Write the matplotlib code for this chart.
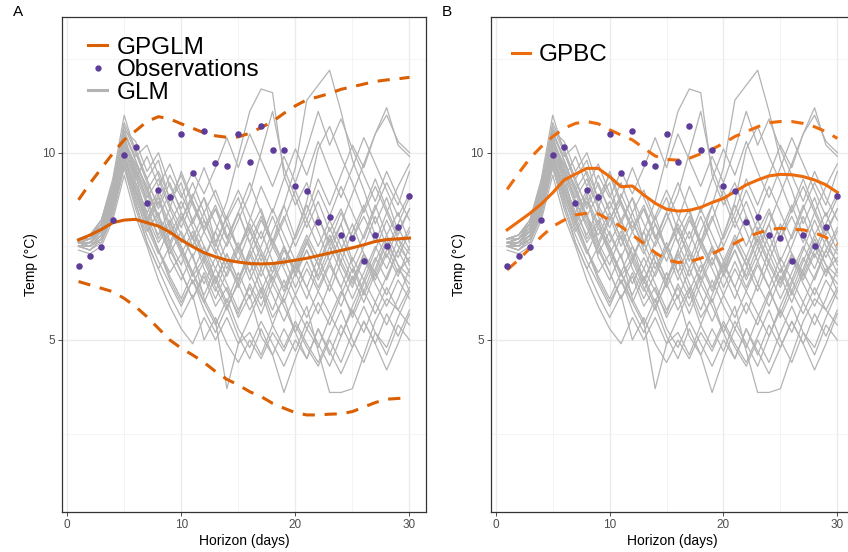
import matplotlib
matplotlib.use("Agg")
import matplotlib.pyplot as plt
from matplotlib.lines import Line2D
from matplotlib.ticker import MultipleLocator

plt.rcParams["font.family"] = ["Liberation Sans", "DejaVu Sans"]

horizon = list(range(1, 31))

observations = [6.97, 7.25, 7.47, 8.20, 9.93, 10.16, 8.65, 9.00, 8.82, 10.50,
                9.47, 10.57, 9.73, 9.65, 10.50, 9.75, 10.72, 10.07, 10.07, 9.11,
                8.97, 8.16, 8.27, 7.81, 7.73, 7.10, 7.79, 7.52, 8.02, 8.84]

# panel A: GPGLM mean and bounds
gpglm_mean = [7.67, 7.80, 7.95, 8.13, 8.20, 8.22, 8.13, 8.04, 7.88, 7.67,
              7.49, 7.33, 7.22, 7.13, 7.08, 7.04, 7.03, 7.04, 7.08, 7.13,
              7.18, 7.25, 7.32, 7.39, 7.46, 7.54, 7.63, 7.68, 7.70, 7.72]
gpglm_upper = [8.74, 9.18, 9.58, 9.98, 10.34, 10.58, 10.83, 10.96, 10.90, 10.77,
               10.65, 10.53, 10.45, 10.41, 10.42, 10.52, 10.67, 10.83, 11.05, 11.25,
               11.41, 11.49, 11.58, 11.69, 11.76, 11.83, 11.90, 11.94, 11.97, 12.01]
gpglm_lower = [6.56, 6.47, 6.38, 6.29, 6.11, 5.89, 5.62, 5.31, 5.00, 4.78,
               4.60, 4.40, 4.16, 3.95, 3.80, 3.62, 3.49, 3.31, 3.18, 3.06,
               3.00, 3.00, 3.02, 3.03, 3.09, 3.21, 3.33, 3.42, 3.44, 3.45]

# panel B: GPBC mean and bounds
gpbc_mean = [7.94, 8.16, 8.38, 8.63, 8.93, 9.27, 9.43, 9.58, 9.58, 9.36,
             9.09, 9.11, 8.87, 8.65, 8.49, 8.44, 8.46, 8.54, 8.67, 8.78,
             8.96, 9.14, 9.27, 9.38, 9.42, 9.41, 9.36, 9.27, 9.14, 8.94]
gpbc_upper = [9.02, 9.45, 9.85, 10.16, 10.43, 10.65, 10.78, 10.83, 10.77, 10.61,
              10.47, 10.34, 10.12, 9.91, 9.82, 9.80, 9.85, 9.97, 10.09, 10.25,
              10.43, 10.56, 10.69, 10.80, 10.83, 10.83, 10.78, 10.69, 10.56, 10.38]
gpbc_lower = [6.87, 7.14, 7.45, 7.76, 8.03, 8.20, 8.34, 8.38, 8.37, 8.20,
              8.03, 7.80, 7.58, 7.33, 7.14, 7.07, 7.09, 7.18, 7.30, 7.45,
              7.58, 7.74, 7.85, 7.95, 7.98, 7.95, 7.94, 7.86, 7.74, 7.54]

# GLM ensemble members (read approximately)
glm_members = [
    [7.6, 7.6, 7.9, 8.8, 10.3, 9.7, 9.1, 8.3, 7.8, 8.4, 7.7, 7.1, 7.9, 8.7, 9.9, 11.1, 11.7, 11.6, 9.4, 8.6, 9.2, 8.3, 7.5, 8.1, 7.1, 7.8, 8.6, 7.8, 8.4, 7.6],
    [7.5, 7.4, 7.7, 8.5, 9.8, 9.0, 8.2, 8.9, 7.6, 7.0, 7.8, 6.9, 6.3, 7.1, 6.5, 7.4, 8.2, 7.6, 8.6, 9.6, 11.4, 11.8, 12.2, 11.1, 9.8, 9.0, 8.1, 8.8, 7.9, 8.5],
    [7.7, 7.8, 8.2, 9.2, 10.8, 10.1, 9.3, 9.8, 8.7, 9.2, 8.1, 8.8, 7.6, 8.3, 7.4, 8.0, 7.1, 7.9, 8.6, 7.7, 8.4, 9.3, 8.6, 9.4, 10.2, 9.6, 10.5, 11.0, 10.3, 10.0],
    [7.6, 7.5, 7.8, 8.6, 10.0, 8.8, 7.9, 8.4, 7.2, 6.6, 7.3, 6.1, 5.5, 3.7, 4.9, 5.6, 6.3, 5.4, 6.2, 7.0, 6.4, 7.2, 6.5, 7.4, 8.1, 7.3, 6.8, 7.6, 7.0, 6.7],
    [7.5, 7.6, 7.6, 8.3, 9.6, 8.5, 7.6, 6.9, 7.5, 6.8, 6.1, 6.7, 5.9, 6.4, 5.6, 6.2, 5.1, 4.6, 3.6, 4.5, 5.3, 4.8, 5.6, 6.3, 5.7, 6.5, 7.2, 6.6, 7.4, 8.0],
    [7.7, 7.7, 8.0, 8.9, 10.4, 9.4, 8.6, 7.7, 8.2, 7.4, 6.8, 7.5, 6.6, 5.9, 6.5, 5.8, 6.4, 5.6, 6.1, 5.2, 5.9, 4.7, 3.6, 3.6, 3.7, 4.6, 5.5, 6.1, 5.8, 6.4],
    [7.6, 7.7, 8.1, 9.0, 10.6, 10.3, 9.5, 10.0, 9.1, 8.5, 9.2, 8.4, 9.0, 8.2, 8.8, 7.9, 8.5, 7.6, 8.3, 7.5, 8.2, 9.0, 8.3, 9.1, 8.4, 7.7, 8.5, 9.2, 8.6, 9.5],
    [7.5, 7.5, 7.8, 8.6, 10.1, 9.2, 8.4, 7.8, 8.5, 9.5, 8.7, 8.0, 8.6, 7.8, 7.1, 7.9, 7.3, 6.6, 7.4, 6.8, 7.6, 7.0, 6.3, 7.1, 7.9, 8.6, 7.8, 7.2, 8.0, 7.4],
    [7.6, 7.6, 7.9, 8.7, 9.9, 9.0, 8.2, 7.4, 6.8, 7.3, 6.5, 7.1, 6.4, 5.8, 6.6, 7.4, 6.7, 7.5, 6.9, 6.2, 6.9, 6.3, 7.0, 6.4, 7.2, 6.6, 7.4, 8.2, 7.5, 7.1],
    [7.7, 7.8, 8.1, 9.1, 10.5, 9.9, 10.2, 9.4, 8.6, 8.0, 8.7, 7.9, 7.3, 8.1, 7.4, 8.2, 9.1, 8.4, 9.3, 10.1, 9.4, 10.3, 9.5, 8.8, 9.6, 10.4, 9.7, 9.0, 8.3, 8.9],
    [7.5, 7.4, 7.6, 8.4, 9.7, 8.7, 7.6, 6.9, 6.2, 5.6, 6.2, 5.0, 5.6, 4.9, 4.4, 5.0, 4.5, 5.2, 4.7, 5.4, 4.8, 4.3, 5.0, 4.4, 5.2, 5.9, 5.2, 4.6, 5.4, 5.0],
    [7.6, 7.7, 8.0, 8.8, 10.2, 9.5, 8.8, 9.3, 8.5, 7.8, 7.2, 7.9, 8.5, 7.7, 8.4, 7.6, 6.9, 7.7, 7.0, 7.8, 8.6, 7.9, 7.1, 7.8, 7.0, 6.3, 7.1, 7.8, 7.2, 7.9],
    [7.6, 7.5, 7.7, 8.5, 9.9, 9.0, 8.1, 7.4, 6.7, 6.1, 6.8, 6.0, 5.4, 6.1, 5.3, 4.8, 5.5, 4.9, 4.3, 5.0, 4.5, 5.3, 4.7, 4.1, 4.8, 5.5, 4.9, 4.2, 4.9, 5.7],
    [7.7, 7.8, 8.2, 9.3, 11.0, 10.0, 9.2, 8.6, 9.4, 8.8, 9.5, 8.9, 9.6, 10.4, 9.6, 10.5, 9.8, 9.1, 9.9, 9.2, 10.1, 11.1, 10.2, 10.9, 10.1, 9.4, 8.7, 9.5, 8.8, 8.2],
    [7.5, 7.6, 7.8, 8.5, 9.8, 8.9, 8.1, 8.7, 8.0, 7.4, 6.7, 7.2, 6.5, 7.3, 6.6, 7.3, 6.5, 5.8, 6.6, 5.9, 5.3, 6.0, 5.4, 6.2, 6.9, 6.2, 6.9, 7.7, 7.0, 6.3],
    [7.6, 7.6, 8.0, 8.8, 10.2, 9.6, 8.9, 8.2, 7.5, 8.2, 8.9, 8.2, 7.5, 8.3, 9.0, 8.3, 7.7, 8.5, 7.8, 7.1, 7.8, 7.2, 8.0, 7.3, 6.6, 7.3, 6.7, 7.4, 8.1, 8.8],
    [7.4, 7.3, 7.5, 8.2, 9.4, 8.3, 7.5, 6.6, 5.9, 5.3, 4.9, 5.6, 5.0, 5.6, 4.9, 5.2, 4.6, 5.4, 4.8, 5.5, 4.9, 4.4, 5.1, 5.8, 5.0, 4.4, 5.2, 4.8, 5.6, 6.3],
    [7.7, 7.7, 8.1, 9.0, 10.6, 9.8, 9.0, 9.5, 8.8, 9.4, 8.6, 7.9, 8.5, 7.7, 8.4, 9.2, 8.4, 7.6, 7.0, 7.8, 8.7, 10.1, 10.7, 9.9, 9.2, 8.4, 9.1, 8.4, 7.7, 7.3],
    [7.6, 7.5, 7.8, 8.6, 10.0, 9.1, 8.3, 7.6, 8.1, 7.5, 6.8, 6.2, 6.9, 6.3, 5.7, 6.5, 5.9, 6.7, 6.0, 6.8, 6.1, 6.9, 7.7, 7.0, 6.4, 7.2, 6.5, 5.9, 6.6, 6.1],
    [7.5, 7.6, 7.9, 8.7, 10.1, 9.3, 9.9, 9.1, 9.7, 8.9, 8.2, 8.8, 8.1, 7.5, 8.2, 8.9, 10.0, 11.1, 9.6, 8.8, 8.0, 8.7, 7.9, 8.5, 7.7, 8.3, 7.6, 8.4, 9.1, 9.7],
    [7.6, 7.7, 7.9, 8.8, 10.3, 9.5, 8.7, 8.0, 7.3, 7.9, 7.2, 6.5, 7.2, 6.5, 5.8, 6.4, 5.7, 6.5, 5.9, 5.2, 4.5, 5.3, 4.6, 5.4, 4.8, 5.5, 4.9, 5.7, 5.1, 5.8],
    [7.7, 7.8, 8.1, 9.0, 10.5, 9.2, 8.4, 9.0, 8.3, 7.6, 8.2, 7.5, 6.9, 7.6, 8.4, 7.6, 8.3, 7.5, 8.2, 9.0, 8.2, 7.5, 8.2, 7.5, 6.8, 7.5, 8.3, 7.5, 6.8, 7.2],
    [7.5, 7.4, 7.7, 8.4, 9.6, 8.6, 7.8, 7.1, 6.5, 5.9, 6.6, 6.0, 6.7, 6.0, 6.8, 6.1, 6.9, 6.2, 5.5, 6.2, 5.6, 6.3, 5.7, 5.1, 5.9, 6.6, 6.0, 6.7, 7.4, 6.8],
    [7.6, 7.6, 7.9, 8.7, 10.2, 9.7, 9.0, 8.3, 8.9, 8.2, 8.8, 9.6, 8.8, 8.1, 7.4, 8.1, 7.4, 6.8, 7.5, 6.9, 7.6, 8.3, 7.6, 8.4, 7.7, 8.5, 9.3, 8.5, 7.8, 8.5],
    [7.6, 7.7, 8.0, 8.9, 10.4, 9.6, 8.7, 8.1, 7.4, 6.8, 6.1, 6.8, 6.1, 6.8, 7.5, 6.8, 6.1, 6.8, 7.5, 6.8, 7.4, 6.7, 7.5, 6.8, 6.1, 6.8, 7.5, 6.9, 7.7, 7.0],
    [7.5, 7.5, 7.8, 8.6, 9.9, 9.0, 8.2, 8.8, 8.1, 8.7, 8.0, 7.3, 6.6, 7.3, 6.6, 7.2, 7.9, 7.1, 6.4, 7.1, 6.4, 5.7, 6.5, 5.9, 6.7, 6.0, 6.8, 6.2, 6.9, 6.5],
    [7.7, 7.8, 8.2, 9.1, 10.7, 10.0, 9.3, 8.5, 9.2, 8.4, 7.7, 8.4, 7.6, 6.9, 7.6, 6.8, 7.5, 8.3, 7.5, 6.7, 7.4, 6.6, 7.3, 8.1, 8.9, 9.7, 10.5, 11.2, 10.2, 9.9],
    [7.6, 7.6, 7.9, 8.8, 10.1, 9.4, 8.2, 7.4, 6.6, 6.0, 6.6, 5.8, 5.2, 5.9, 5.1, 4.5, 5.3, 4.6, 5.3, 4.7, 5.5, 4.9, 4.3, 5.1, 5.8, 5.2, 6.0, 5.4, 6.1, 6.9],
    [7.5, 7.5, 7.7, 8.5, 9.7, 8.8, 8.0, 7.3, 8.0, 7.3, 7.9, 7.2, 7.9, 7.1, 6.4, 7.1, 6.3, 7.0, 6.3, 7.0, 7.7, 7.0, 7.8, 7.1, 6.5, 7.3, 6.6, 7.3, 6.7, 7.5],
    [7.6, 7.7, 8.1, 9.0, 10.5, 9.8, 9.0, 8.3, 7.6, 8.3, 7.5, 8.2, 7.4, 6.7, 7.4, 6.6, 7.3, 6.5, 7.2, 6.4, 7.1, 6.4, 7.1, 6.4, 5.6, 6.3, 5.7, 6.4, 5.8, 5.4],
]

glm_grey = "#b3b3b3"
obs_purple = "#5e3c99"
orange_a = "#d95f02"
orange_b = "#ec6b0c"
dash = (4, 3.2)


def style_axes(ax):
    ax.set_xlim(-0.45, 31.45)
    ax.set_ylim(0.41, 13.62)
    ax.xaxis.set_major_locator(MultipleLocator(10))
    ax.xaxis.set_minor_locator(MultipleLocator(5))
    ax.yaxis.set_major_locator(MultipleLocator(5))
    ax.yaxis.set_minor_locator(MultipleLocator(2.5))
    ax.grid(which="major", color="#ebebeb", lw=1.0, zorder=0)
    ax.grid(which="minor", color="#f2f2f2", lw=0.6, zorder=0)
    ax.set_axisbelow(True)
    ax.tick_params(which="major", length=3, width=0.6, color="#333333",
                   labelcolor="#4d4d4d", labelsize=8.5, pad=2)
    ax.tick_params(which="minor", length=0)
    for sp in ax.spines.values():
        sp.set_color("#333333")
        sp.set_linewidth(0.9)
    ax.set_xlabel("Horizon (days)", fontsize=10, labelpad=2)
    ax.set_ylabel("Temp (°C)", fontsize=10, labelpad=3)


def draw_panel(ax, mean, upper, lower, colour):
    for member in glm_members:
        ax.plot(horizon, member, color=glm_grey, lw=0.9, zorder=2)
    ax.plot(horizon, upper, color=colour, lw=2.2, dashes=dash, zorder=3)
    ax.plot(horizon, lower, color=colour, lw=2.2, dashes=dash, zorder=3)
    ax.plot(horizon, mean, color=colour, lw=2.2, zorder=3)
    ax.scatter(horizon, observations, s=22, color=obs_purple, zorder=4,
               linewidths=0)


fig = plt.figure(figsize=(8.48, 5.52), dpi=100)
ax_a = fig.add_axes([0.0731, 0.0725, 0.4293, 0.8967])
ax_b = fig.add_axes([0.5786, 0.0725, 0.4283, 0.8967])

draw_panel(ax_a, gpglm_mean, gpglm_upper, gpglm_lower, orange_a)
draw_panel(ax_b, gpbc_mean, gpbc_upper, gpbc_lower, orange_b)
style_axes(ax_a)
style_axes(ax_b)

handles_a = [
    Line2D([], [], color=orange_a, lw=2.2),
    Line2D([], [], color=obs_purple, marker="o", ls="", markersize=3.5),
    Line2D([], [], color=glm_grey, lw=2.2),
]
ax_a.legend(handles_a, ["GPGLM", "Observations", "GLM"], loc="upper left",
            bbox_to_anchor=(0.026, 0.995), frameon=False, fontsize=17.5,
            handlelength=0.75, handletextpad=0.42, labelspacing=0.03,
            borderpad=0.2)
ax_b.legend([Line2D([], [], color=orange_b, lw=2.2)], ["GPBC"],
            loc="upper left", bbox_to_anchor=(0.0125, 0.979), frameon=False,
            fontsize=17.5, handlelength=0.75, handletextpad=0.35, borderpad=0.2)

fig.text(13 / 848, 1 - 12 / 552, "A", fontsize=11, va="center", ha="left")
fig.text(442 / 848, 1 - 12 / 552, "B", fontsize=11, va="center", ha="left")

fig.savefig("out.png", dpi=100)
